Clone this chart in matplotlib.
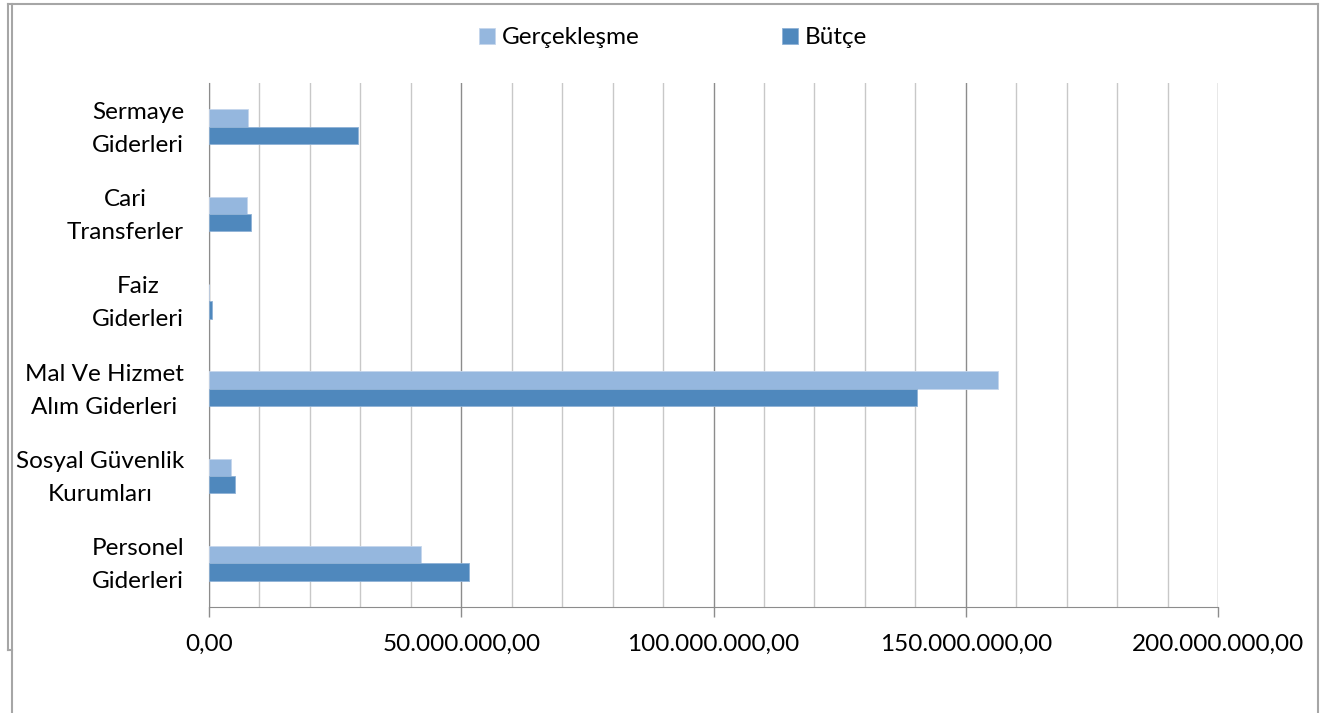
import numpy as np
import matplotlib
matplotlib.use("Agg")
import matplotlib.pyplot as plt
from matplotlib.lines import Line2D
from matplotlib.transforms import ScaledTranslation
from matplotlib.ticker import FuncFormatter, MultipleLocator

plt.rcParams["font.family"] = ["Lato", "DejaVu Sans"]

# ── Data ──────────────────────────────────────────────────────
categories = ["Personel\nGiderleri", "Sosyal Güvenlik\nKurumları",
              "Mal Ve Hizmet\nAlım Giderleri", "Faiz\nGiderleri",
              "Cari\nTransferler", "Sermaye\nGiderleri"]
gerceklesme = [42.0e6, 4.3e6, 156.3e6, 0.0, 7.5e6, 7.8e6]
butce = [51.5e6, 5.1e6, 140.4e6, 0.5e6, 8.3e6, 29.5e6]
series_names = ["Gerçekleşme", "Bütçe"]

C_LIGHT = "#95B7DE"
C_DARK = "#4F88BD"
GRID_MINOR = "#C8C8C8"
GRID_MAJOR = "#8C8C8C"
FRAME = "#A6A6A6"
FS = 17.5

W, H = 1320, 713
fig = plt.figure(figsize=(W / 100, H / 100), dpi=100)
ax = fig.add_axes([209 / W, 1 - 607 / H, (1218 - 209) / W, (607 - 83) / H])

y = np.arange(len(categories))
bh = 0.2
b1 = ax.barh(y + bh / 2, gerceklesme, height=bh, color=C_LIGHT,
             edgecolor="#C5D6EC", linewidth=0.6, label=series_names[0], zorder=3)
b2 = ax.barh(y - bh / 2, butce, height=bh, color=C_DARK,
             edgecolor="#8FB2D6", linewidth=0.6, label=series_names[1], zorder=3)

ax.set_xlim(0, 200e6)
ax.set_ylim(-0.5, len(categories) - 0.5)

# gridlines: every 10M light, every 50M darker
ax.xaxis.set_major_locator(MultipleLocator(50e6))
ax.xaxis.set_minor_locator(MultipleLocator(10e6))
ax.grid(axis="x", which="minor", color=GRID_MINOR, linewidth=1.0, zorder=0)
ax.grid(axis="x", which="major", color=GRID_MAJOR, linewidth=1.0, zorder=0)
ax.set_axisbelow(True)


def tr_fmt(v, pos):
    s = f"{v:,.2f}"
    return s.replace(",", "X").replace(".", ",").replace("X", ".")


ax.xaxis.set_major_formatter(FuncFormatter(tr_fmt))
ax.tick_params(axis="x", which="major", direction="out", length=7, width=1,
               color=GRID_MAJOR, labelsize=FS, pad=12)
ax.tick_params(axis="x", which="minor", length=0)

ax.set_yticks(y)
ax.set_yticklabels(categories, fontsize=FS, multialignment="center",
                   linespacing=1.7)
ax.tick_params(axis="y", length=0, pad=18)
# nudge category labels up so the two lines sit centred on each group
shift = ScaledTranslation(0, 6 / 100, fig.dpi_scale_trans)
for lab in ax.get_yticklabels():
    lab.set_transform(lab.get_transform() + shift)

for s in ["top", "right"]:
    ax.spines[s].set_visible(False)
ax.spines["left"].set_color(GRID_MAJOR)
ax.spines["bottom"].set_color(GRID_MAJOR)

fig.legend(handles=[b1, b2], labels=series_names, loc="center",
           bbox_to_anchor=(673 / W, 1 - 38 / H), ncol=2, frameon=False,
           fontsize=FS, handlelength=0.65, handleheight=0.65,
           handletextpad=0.3, columnspacing=5.85)

# outer chart frame
def px_line(xs, ys):
    fig.add_artist(Line2D([v / W for v in xs], [1 - v / H for v in ys],
                          transform=fig.transFigure, color=FRAME, linewidth=1.5))

px_line([8, 1318], [4, 4])
px_line([1318, 1318], [4, H])
px_line([8, 8], [4, 650])
px_line([8, 12], [650, 650])
px_line([12, 12], [4, H])

fig.savefig("out.png", dpi=100)
